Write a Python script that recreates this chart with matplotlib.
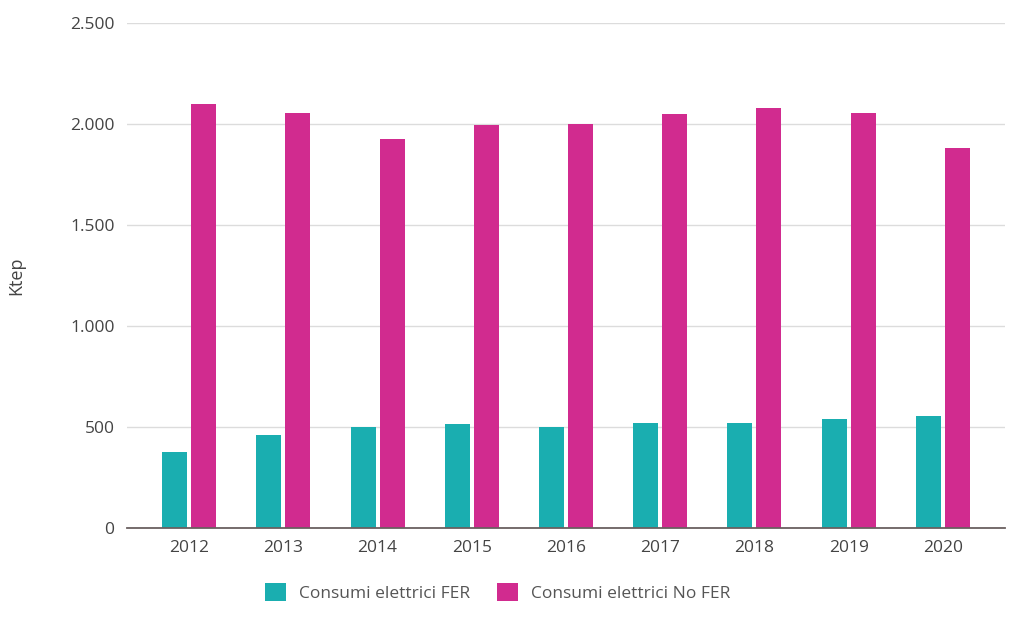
import matplotlib
matplotlib.use("Agg")
import matplotlib.pyplot as plt
import numpy as np
from matplotlib.ticker import FuncFormatter

years = ["2012", "2013", "2014", "2015", "2016", "2017", "2018", "2019", "2020"]
fer = [376, 459, 500, 512, 500, 517, 517, 541, 554]
no_fer = [2101, 2057, 1925, 1996, 2004, 2049, 2082, 2057, 1884]
yticks = [0, 500, 1000, 1500, 2000, 2500]

plt.rcParams['font.family'] = ['Open Sans', 'DejaVu Sans']

fig = plt.figure(figsize=(10.27, 6.26), dpi=100)
ax = fig.add_axes([0.1237, 0.1569, 0.8549, 0.8056])

x = np.arange(len(years))
w = 0.265
gap = 0.042
ax.bar(x - (w + gap) / 2, fer, width=w, color="#1AAEB0", label="Consumi elettrici FER", zorder=3)
ax.bar(x + (w + gap) / 2, no_fer, width=w, color="#D12B8F", label="Consumi elettrici No FER", zorder=3)

ax.set_xlim(-0.66, 8.66)
ax.set_ylim(0, 2500)
ax.set_yticks(yticks)
ax.yaxis.set_major_formatter(FuncFormatter(lambda v, p: f"{int(v):,}".replace(",", ".")))
ax.set_xticks(x)
ax.set_xticklabels(years)
ax.grid(axis="y", color="#dcdcdc", linewidth=1, zorder=0)
for s in ["top", "right", "left"]:
    ax.spines[s].set_visible(False)
ax.spines["bottom"].set_color("#6a6060")
ax.spines["bottom"].set_linewidth(1.3)
ax.spines["bottom"].set_zorder(4)
ax.tick_params(axis="both", length=0, labelsize=12.5, colors="#444444")
ax.tick_params(axis="y", pad=9)
ax.tick_params(axis="x", pad=9)
ax.set_ylabel("Ktep", fontsize=13, color="#444444")
ax.yaxis.set_label_coords((25 - 127) / (0.8549 * 1027), 0.5)

leg = fig.legend(loc="center", bbox_to_anchor=(498 / 1027, 0.054), ncol=2, frameon=False,
                 fontsize=12.5, handlelength=1.2, handleheight=1.2, columnspacing=1.55,
                 handletextpad=0.75)
for t in leg.get_texts():
    t.set_color("#555555")

fig.savefig("out.png", dpi=100)
